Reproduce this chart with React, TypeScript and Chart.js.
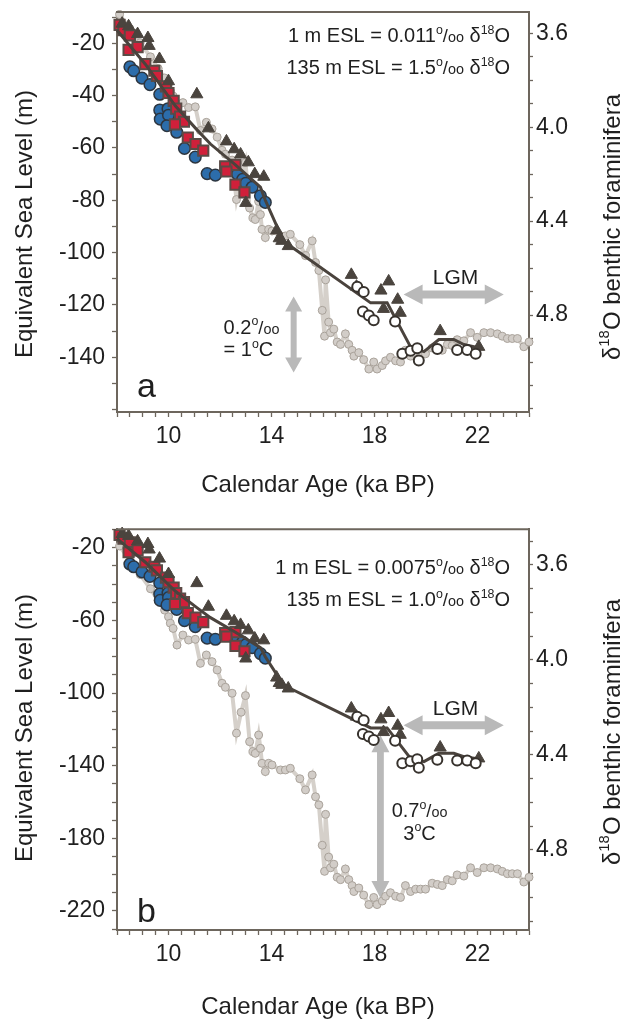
import React, { useEffect, useRef } from "react";
import { Chart, registerables } from "chart.js";

Chart.register(...registerables);

const FONT = '"Liberation Sans", Arial, Helvetica, sans-serif';
Chart.defaults.font.family = FONT;

const AXIS_COLOR = "#6d665d";
const TEXT_COLOR = "#1f1f1f";
const ARROW_COLOR = "#b9b9b9";

// ---------- DATA ----------
// Benthic foraminifera δ18O record (ka BP, ‰)
const benthicAge = [
  8.1, 8.5, 8.9, 9.3, 9.6, 9.85, 10.0, 10.07, 10.18, 10.33, 10.56, 10.78, 11.04, 11.24, 11.47, 11.69,
  11.89, 12.08, 12.21, 12.47, 12.64, 12.82, 12.99, 13.15, 13.28, 13.37, 13.5, 13.57, 13.63, 13.76,
  13.89, 14.02, 14.35, 14.54, 14.73, 15.1, 15.32, 15.58, 15.71, 15.84, 15.97, 16.06, 16.1, 16.22,
  16.29, 16.42, 16.55, 16.68, 16.87, 17.0, 17.13, 17.2, 17.39, 17.58, 17.78, 17.97, 18.1, 18.3,
  18.43, 18.62, 18.82, 19.01, 19.2, 19.4, 19.6, 19.79, 19.98, 20.24, 20.44, 20.63, 20.83, 21.02,
  21.21, 21.47, 21.73, 21.99, 22.25, 22.51, 22.77, 22.96, 23.16, 23.35, 23.55, 23.8, 24.0,
];
const benthicD18O = [
  3.52, 3.58, 3.64, 3.7, 3.75, 3.79, 3.818, 3.845, 3.867, 3.937, 3.895, 3.916, 3.913, 4.014, 3.979, 4.007,
  4.042, 4.098, 4.115, 4.14, 4.308, 4.22, 4.15, 4.344, 4.386, 4.393, 4.316, 4.372, 4.435, 4.47,
  4.435, 4.442, 4.463, 4.463, 4.456, 4.5, 4.547, 4.484, 4.576, 4.61, 4.78, 4.89, 4.65, 4.83,
  4.875, 4.86, 4.915, 4.925, 4.88, 4.925, 4.95, 4.975, 4.96, 4.99, 5.03, 5.0, 5.03, 5.015,
  4.995, 4.98, 4.995, 5.0, 4.95, 4.975, 4.965, 4.965, 4.965, 4.94, 4.945, 4.95, 4.925, 4.93,
  4.905, 4.91, 4.875, 4.895, 4.875, 4.875, 4.88, 4.89, 4.9, 4.9, 4.9, 4.935, 4.915,
];

// Red squares (ka BP, ESL m)
const redAge = [8.1, 8.25, 8.5, 8.45, 8.8, 9.1, 9.45, 9.55, 9.9, 10.0, 10.2, 10.3, 10.45, 10.6, 10.25, 10.75, 11.05, 11.35, 12.2, 12.6, 12.25, 12.6, 12.95];
const redESL = [-13, -15, -17, -22.5, -21.5, -28, -30.5, -32.5, -36.5, -39, -42, -45, -48, -50, -51, -56, -58.5, -61, -67, -66.5, -69, -74, -77];

// Blue circles (ka BP, ESL m)
const blueAge = [8.5, 8.65, 8.97, 9.28, 9.66, 9.66, 9.68, 9.98, 10.0, 9.94, 10.32, 10.62, 11.04, 11.5, 11.82, 12.68, 12.88, 13.0, 13.25, 13.57, 13.76];
const blueESL = [-29, -30.5, -33.3, -35.8, -39.5, -45.5, -49, -45, -47.5, -51.5, -54, -60.2, -63.5, -69.8, -70.4, -70, -72, -73.5, -75, -78.3, -80.8];

// Dark triangles (ka BP, ESL m)
const triAge = [8.2, 8.45, 8.8, 9.2, 9.25, 9.65, 10.0, 11.1, 11.55, 12.25, 12.55, 12.8, 13.1, 13.35, 13.7, 13.0, 14.2, 14.3, 14.4, 14.65, 17.1, 17.3, 18.25, 18.55, 18.35, 18.9, 19.0, 20.55, 22.05];
const triESL = [-12.5, -13.5, -16.5, -18, -21, -26, -34.5, -39.5, -52.5, -57.5, -60.5, -62.5, -65.5, -70, -71, -81, -91.5, -94.5, -95.5, -97.5, -108.5, -113, -114.5, -111, -121.5, -118, -123, -130, -136];

// Open circles (ka BP, ESL m)
const openAge = [17.33, 17.58, 17.55, 17.78, 17.97, 18.8, 19.08, 19.4, 19.66, 19.72, 20.44, 21.21, 21.6, 21.93];
const openESL = [-113, -115, -122.5, -124, -125.8, -126.3, -138.6, -137.5, -136.5, -141.2, -136.8, -137.2, -137.2, -138.6];

// Composite ESL curve (ka BP, ESL m)
const eslCurveAge = [8.0, 9.1, 10.27, 11.1, 11.63, 12.6, 13.57, 13.76, 14.28, 14.48, 14.73, 17.85, 18.49, 19.4, 19.92, 20.5, 21.08, 21.47, 22.12];
const eslCurveESL = [-15, -28, -44, -53, -58.5, -66.5, -75, -80, -91.5, -95.5, -97.5, -119.2, -119.2, -136, -137.8, -133.2, -133.2, -135.1, -136.5];

// Tick labels
const ageTickLabels = [10, 14, 18, 22];
const d18OTickLabels = [3.6, 4.0, 4.4, 4.8];
const eslTickLabelsA = [-20, -40, -60, -80, -100, -120, -140];
const eslTickLabelsB = [-20, -60, -100, -140, -180, -220];

// ---------- HELPERS ----------
function stepValues(from: number, to: number, step: number) {
  const out: number[] = [];
  const n = Math.round((to - from) / step);
  for (let i = 0; i <= n; i++) out.push(Math.round((from + i * step) * 1000) / 1000);
  return out;
}
const toPts = (xs: number[], ys: number[]) => xs.map((x, i) => ({ x, y: ys[i] }));
const hasVal = (arr: number[], v: number) => arr.some((a) => Math.abs(a - v) < 1e-6);

type Seg = { t: string; s?: number; dy?: number };

function drawRich(ctx: any, segs: Seg[], x: number, yBase: number, size: number, align: string) {
  const widths = segs.map((seg) => {
    ctx.font = `${size * (seg.s ?? 1)}px ${FONT}`;
    return ctx.measureText(seg.t).width;
  });
  const total = widths.reduce((a, b) => a + b, 0);
  let cx = align === "left" ? x : align === "right" ? x - total : x - total / 2;
  ctx.textAlign = "left";
  ctx.textBaseline = "alphabetic";
  segs.forEach((seg, i) => {
    ctx.font = `${size * (seg.s ?? 1)}px ${FONT}`;
    ctx.fillText(seg.t, cx, yBase + (seg.dy ?? 0) * size);
    cx += widths[i];
  });
}

const perMil: Seg[] = [{ t: "o", s: 0.62, dy: -0.42 }, { t: "/", s: 0.92 }, { t: "oo", s: 0.72 }];
const degC: Seg[] = [{ t: "o", s: 0.62, dy: -0.42 }, { t: "C" }];
const eslLine = (prefix: string, value: string): Seg[] => [
  { t: `${prefix} = ${value}` },
  ...perMil,
  { t: " δ" },
  { t: "18", s: 0.62, dy: -0.42 },
  { t: "O" },
];

function hArrow(ctx: any, x1: number, x2: number, y: number, sh: number, hl: number, hh: number) {
  ctx.beginPath();
  ctx.moveTo(x1, y);
  ctx.lineTo(x1 + hl, y - hh);
  ctx.lineTo(x1 + hl, y - sh);
  ctx.lineTo(x2 - hl, y - sh);
  ctx.lineTo(x2 - hl, y - hh);
  ctx.lineTo(x2, y);
  ctx.lineTo(x2 - hl, y + hh);
  ctx.lineTo(x2 - hl, y + sh);
  ctx.lineTo(x1 + hl, y + sh);
  ctx.lineTo(x1 + hl, y + hh);
  ctx.closePath();
  ctx.fill();
}
function vArrow(ctx: any, x: number, y1: number, y2: number, sh: number, hl: number, hh: number) {
  ctx.beginPath();
  ctx.moveTo(x, y1);
  ctx.lineTo(x + hh, y1 + hl);
  ctx.lineTo(x + sh, y1 + hl);
  ctx.lineTo(x + sh, y2 - hl);
  ctx.lineTo(x + hh, y2 - hl);
  ctx.lineTo(x, y2);
  ctx.lineTo(x - hh, y2 - hl);
  ctx.lineTo(x - sh, y2 - hl);
  ctx.lineTo(x - sh, y1 + hl);
  ctx.lineTo(x - hh, y1 + hl);
  ctx.closePath();
  ctx.fill();
}

// ---------- PANELS ----------
const PANELS: any[] = [
  {
    letter: "a", offset: 0, height: 500, areaTop: 12, areaBottom: 412,
    eslMin: -160.9, eslMax: -8.05, eslTicks: stepValues(-160, -10, 10), eslLabels: eslTickLabelsA,
    dMin: 3.509, dMax: 5.213, dTicks: stepValues(3.6, 5.2, 0.1),
    ratio1: "0.011", ratio2: "1.5",
    lgm: { x1: 19.13, x2: 23.02, y: -116, textX: 21.15, textY: -109 },
    temp: { x: 14.86, top: -116.8, bottom: -145.8, shaft: 3, head: 15, headHalf: 8.5,
      textX: 12.14, align: "left", t1Y: -128.3, t2Y: -137, v1: "0.2", v2: "= 1" },
    letterBase: 397, leftTitleY: 224, rightTitleY: 227, bottomTitleY: 483,
  },
  {
    letter: "b", offset: 500, height: 519, areaTop: 29.3, areaBottom: 430,
    eslMin: -230.46, eslMax: -9.87, eslTicks: stepValues(-230, -10, 10), eslLabels: eslTickLabelsB,
    dMin: 3.4497, dMax: 5.137, dTicks: stepValues(3.5, 5.1, 0.1),
    ratio1: "0.0075", ratio2: "1.0",
    lgm: { x1: 19.13, x2: 23.02, y: -117.7, textX: 21.15, textY: -108.2 },
    temp: { x: 18.23, top: -123.2, bottom: -212.9, shaft: 3.4, head: 17, headHalf: 9,
      textX: 19.75, align: "center", t1Y: -164.5, t2Y: -177, v1: "0.7", v2: "3" },
    letterBase: 421.7, leftTitleY: 228, rightTitleY: 232, bottomTitleY: 505,
  },
];

function decorPlugin(p: any) {
  return {
    id: "decor_" + p.letter,
    beforeDatasetsDraw(chart: any) {
      const { ctx } = chart;
      const xs = chart.scales.x;
      const ys = chart.scales.y;
      ctx.save();
      ctx.fillStyle = ARROW_COLOR;
      hArrow(ctx, xs.getPixelForValue(p.lgm.x1), xs.getPixelForValue(p.lgm.x2), ys.getPixelForValue(p.lgm.y), 4, 19, 10);
      vArrow(ctx, xs.getPixelForValue(p.temp.x), ys.getPixelForValue(p.temp.top), ys.getPixelForValue(p.temp.bottom), p.temp.shaft, p.temp.head, p.temp.headHalf);
      ctx.restore();
    },
    afterDraw(chart: any) {
      const { ctx, chartArea } = chart;
      const xs = chart.scales.x;
      const ys = chart.scales.y;
      const y2 = chart.scales.y2;
      ctx.save();
      // top frame
      ctx.strokeStyle = AXIS_COLOR;
      ctx.lineWidth = 2;
      ctx.beginPath();
      ctx.moveTo(chartArea.left - 1, chartArea.top);
      ctx.lineTo(chartArea.right + 1, chartArea.top);
      ctx.stroke();

      ctx.fillStyle = TEXT_COLOR;
      // ratio texts
      const l1 = y2.getPixelForValue(3.6) + 2;
      drawRich(ctx, eslLine("1 m ESL", p.ratio1), 510, l1 + 7, 20, "right");
      drawRich(ctx, eslLine("135 m ESL", p.ratio2), 510, l1 + 32 + 7, 20, "right");

      // LGM
      drawRich(ctx, [{ t: "LGM" }], xs.getPixelForValue(p.lgm.textX), ys.getPixelForValue(p.lgm.textY) + 7.5, 21, "center");

      // temperature arrow text
      const tx = xs.getPixelForValue(p.temp.textX);
      drawRich(ctx, [{ t: p.temp.v1 }, ...perMil], tx, ys.getPixelForValue(p.temp.t1Y) + 7, 20, p.temp.align);
      drawRich(ctx, [{ t: p.temp.v2 }, ...degC], tx, ys.getPixelForValue(p.temp.t2Y) + 7, 20, p.temp.align);

      // panel letter
      ctx.font = `34px ${FONT}`;
      ctx.textAlign = "left";
      ctx.textBaseline = "alphabetic";
      ctx.fillText(p.letter, 137, p.letterBase);

      // left title
      ctx.save();
      ctx.translate(23, p.leftTitleY);
      ctx.rotate(-Math.PI / 2);
      drawRich(ctx, [{ t: "Equivalent Sea Level (m)" }], 0, 8.5, 24, "center");
      ctx.restore();

      // right title
      ctx.save();
      ctx.translate(611, p.rightTitleY);
      ctx.rotate(-Math.PI / 2);
      drawRich(ctx, [{ t: "δ" }, { t: "18", s: 0.62, dy: -0.42 }, { t: "O benthic foraminifera" }], 0, 8.5, 24, "center");
      ctx.restore();

      // bottom title
      drawRich(ctx, [{ t: "Calendar Age (ka BP)" }], 318, p.bottomTitleY + 8.5, 24, "center");
      ctx.restore();
    },
  };
}

function makeConfig(p: any): any {
  const tickFont = { family: FONT, size: 23 };
  const grid = { drawOnChartArea: false, drawTicks: true, tickLength: 5, tickColor: AXIS_COLOR, tickWidth: 1.3, color: AXIS_COLOR };
  const border = { display: true, color: AXIS_COLOR, width: 2 };
  return {
    type: "scatter",
    data: {
      datasets: [
        { label: "Open circles", data: toPts(openAge, openESL), yAxisID: "y", pointStyle: "circle", pointRadius: 5,
          backgroundColor: "#ffffff", borderColor: "#37322d", borderWidth: 2, showLine: false, order: 1, clip: false },
        { label: "Triangles", data: toPts(triAge, triESL), yAxisID: "y", pointStyle: "triangle", pointRadius: 7,
          backgroundColor: "#4a443e", borderColor: "#4a443e", borderWidth: 1, showLine: false, order: 2, clip: false },
        { label: "ESL curve", data: toPts(eslCurveAge, eslCurveESL), yAxisID: "y", showLine: true, pointRadius: 0,
          borderColor: "#4a433d", borderWidth: 3, tension: 0, fill: false, order: 3, clip: false },
        { label: "Red squares", data: toPts(redAge, redESL), yAxisID: "y", pointStyle: "rect", pointRadius: 7.2,
          backgroundColor: "#d0203a", borderColor: "#5a4b46", borderWidth: 2, showLine: false, order: 4, clip: false },
        { label: "Blue circles", data: toPts(blueAge, blueESL), yAxisID: "y", pointStyle: "circle", pointRadius: 5.8,
          backgroundColor: "#2c6dab", borderColor: "#2d3640", borderWidth: 1.5, showLine: false, order: 5, clip: false },
        { label: "Benthic d18O", data: toPts(benthicAge, benthicD18O), yAxisID: "y2", showLine: true, tension: 0,
          borderColor: "#d5d0ca", borderWidth: 4, pointRadius: 4, pointStyle: "circle",
          pointBackgroundColor: "#d2cdc8", pointBorderColor: "#a9a29a", pointBorderWidth: 1, order: 6, clip: false },
      ],
    },
    options: {
      responsive: false,
      animation: false,
      devicePixelRatio: 1,
      events: [],
      layout: { padding: { top: p.areaTop, left: 0, right: 0, bottom: 0 } },
      plugins: { legend: { display: false }, tooltip: { enabled: false }, title: { display: false } },
      scales: {
        x: {
          type: "linear", position: "bottom", min: 8, max: 24,
          afterBuildTicks: (s: any) => { s.ticks = stepValues(8, 24, 0.5).map((v) => ({ value: v })); },
          afterFit: (s: any) => { s.height = p.height - p.areaBottom; s.paddingLeft = 0; s.paddingRight = 0; },
          ticks: { autoSkip: false, maxRotation: 0, minRotation: 0, padding: 6, color: TEXT_COLOR, font: tickFont,
            callback: (v: number) => (hasVal(ageTickLabels, v) ? String(v) : "") },
          grid, border,
        },
        y: {
          type: "linear", position: "left", min: p.eslMin, max: p.eslMax,
          afterBuildTicks: (s: any) => { s.ticks = p.eslTicks.map((v: number) => ({ value: v })); },
          afterFit: (s: any) => { s.width = 117; s.paddingTop = 0; s.paddingBottom = 0; },
          ticks: { autoSkip: false, padding: 7, color: TEXT_COLOR, font: tickFont,
            callback: (v: number) => (hasVal(p.eslLabels, v) ? String(v) : "") },
          grid, border,
        },
        y2: {
          type: "linear", position: "right", reverse: true, min: p.dMin, max: p.dMax,
          afterBuildTicks: (s: any) => { s.ticks = p.dTicks.map((v: number) => ({ value: v })); },
          afterFit: (s: any) => { s.width = 624 - 529; s.paddingTop = 0; s.paddingBottom = 0; },
          ticks: { autoSkip: false, padding: 3, color: TEXT_COLOR, font: tickFont,
            callback: (v: number) => (hasVal(d18OTickLabels, v) ? v.toFixed(1) : "") },
          grid: { ...grid, tickLength: 4 }, border,
        },
      },
    },
    plugins: [decorPlugin(p)],
  };
}

function Panel({ p }: { p: any }) {
  const ref = useRef<HTMLCanvasElement>(null);
  useEffect(() => {
    const chart = new Chart(ref.current as HTMLCanvasElement, makeConfig(p));
    return () => chart.destroy();
  }, [p]);
  return (
    <canvas
      ref={ref}
      width={624}
      height={p.height}
      style={{ position: "absolute", left: 0, top: p.offset, width: 624, height: p.height }}
    />
  );
}

export default function App() {
  return (
    <div style={{ position: "absolute", left: 0, top: 0, width: 624, height: 1019, background: "#ffffff" }}>
      {PANELS.map((p) => (
        <Panel key={p.letter} p={p} />
      ))}
    </div>
  );
}
